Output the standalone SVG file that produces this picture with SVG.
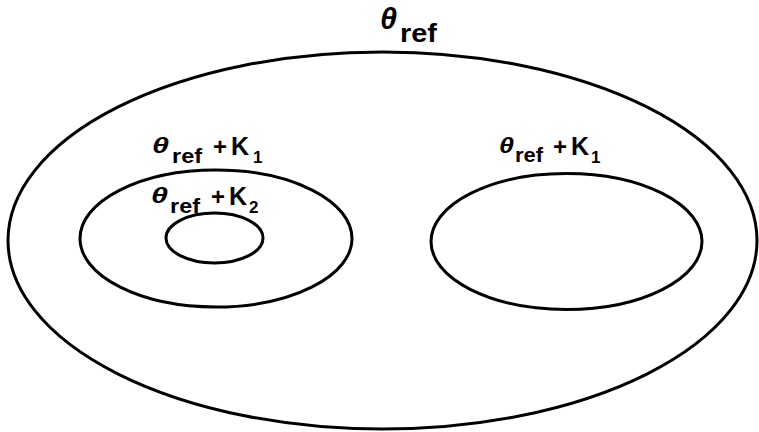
<svg xmlns="http://www.w3.org/2000/svg" width="759" height="432" viewBox="0 0 759 432">
<style>
.reg{fill:none;stroke:#000;stroke-width:3}
.t{font-family:"Liberation Sans",Arial,sans-serif;font-weight:bold;fill:#000}
.th{font-family:"Liberation Sans",Arial,sans-serif;font-weight:bold;font-style:italic;fill:#000}
</style>
<rect width="759" height="432" fill="#fff"/>
<g id="outer">
<ellipse class="reg" cx="382.5" cy="240.5" rx="374.5" ry="188.5"/>
<text class="th" x="380" y="29" font-size="29" textLength="17" lengthAdjust="spacingAndGlyphs">θ</text>
<text class="t" x="400" y="42" font-size="26" textLength="37" lengthAdjust="spacingAndGlyphs">ref</text>
</g>
<g id="left-region">
<ellipse class="reg" cx="216" cy="238.5" rx="136" ry="68.5"/>
<text class="th" x="152" y="153" font-size="23" textLength="17" lengthAdjust="spacingAndGlyphs">θ</text>
<text class="t" x="172" y="163" font-size="20" textLength="30" lengthAdjust="spacingAndGlyphs">ref</text>
<text class="t" x="213" y="155" font-size="24">+</text>
<text class="t" x="231" y="155" font-size="25">K</text>
<text class="t" x="253" y="163" font-size="17">1</text>
</g>
<g id="inner-region">
<ellipse class="reg" cx="214.5" cy="238" rx="48.5" ry="25"/>
<text class="th" x="151" y="203" font-size="23" textLength="17" lengthAdjust="spacingAndGlyphs">θ</text>
<text class="t" x="170" y="213" font-size="20" textLength="30" lengthAdjust="spacingAndGlyphs">ref</text>
<text class="t" x="211" y="205" font-size="24">+</text>
<text class="t" x="229" y="205" font-size="25">K</text>
<text class="t" x="249" y="213" font-size="17">2</text>
</g>
<g id="right-region">
<ellipse class="reg" cx="566.5" cy="241.5" rx="135.5" ry="68"/>
<text class="th" x="499" y="153" font-size="23" textLength="15" lengthAdjust="spacingAndGlyphs">θ</text>
<text class="t" x="515" y="162" font-size="20" textLength="28" lengthAdjust="spacingAndGlyphs">ref</text>
<text class="t" x="553" y="155" font-size="24">+</text>
<text class="t" x="571" y="155" font-size="25">K</text>
<text class="t" x="591" y="163" font-size="17">1</text>
</g>
</svg>
